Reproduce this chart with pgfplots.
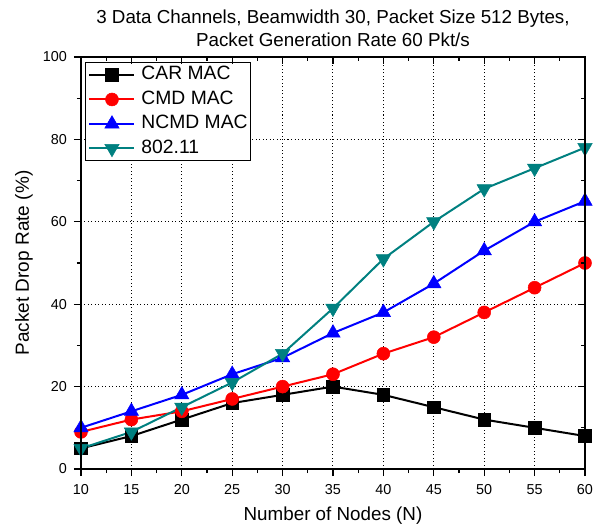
\documentclass[border=0pt]{standalone}
\usepackage{pgfplots}
\pgfplotsset{compat=1.18}
\usepackage{fontspec}
\setmainfont{Liberation Sans}
\definecolor{tealc}{RGB}{0,128,128}
\begin{document}
\begin{tikzpicture}
\pgfplotsset{
  base/.style={
    scale only axis,
    width=504pt, height=412pt,
    xmin=10, xmax=60, ymin=0, ymax=100,
    xtick={10,15,...,60}, ytick={0,20,...,100},
    minor x tick num=1, minor y tick num=1,
    major tick length=7pt, minor tick length=4pt,
    tick style={black, line width=1.2pt},
    axis line style={line width=1.5pt},
  }
}
\begin{axis}[
  base,
  tick align=outside, tick pos=left,
  grid=major,
  grid style={black, line width=1pt, dash pattern=on 1pt off 2.5pt},
  ticklabel style={font=\fontsize{14.4}{17}\selectfont, inner sep=0pt},
  xticklabel style={yshift=-8pt},
  yticklabel style={xshift=-7pt},
  /pgf/number format/assume math mode=true,
  xlabel={Number of Nodes (N)},
  ylabel={Packet Drop Rate (\%)},
  every axis x label/.style={at={(axis description cs:0.5,0)}, anchor=base, yshift=-51pt, font=\fontsize{18.8}{22}\selectfont},
  every axis y label/.style={at={(axis description cs:-0.113,0.5)}, rotate=90, anchor=center, font=\fontsize{19}{22}\selectfont},
  title={3 Data Channels, Beamwidth 30, Packet Size 512 Bytes,\\Packet Generation Rate 60 Pkt/s},
  every axis title/.style={at={(axis description cs:0.5,1)}, anchor=north, yshift=47pt, inner sep=0pt, align=center, font=\fontsize{18.8}{23}\selectfont},
  legend style={at={(rel axis cs:0.0079,0.9879)}, anchor=north west, draw=black, line width=1pt,
    font=\fontsize{19.3}{23}\selectfont, inner xsep=3pt, inner ysep=3.5pt,
    nodes={inner sep=0pt, text height=14pt, text depth=4pt},
    row sep=6.5pt, column sep=6pt, fill=white},
  legend cell align=left,
  every axis plot/.append style={line width=2pt},
  legend image code/.code={\draw[mark repeat=2,mark phase=2] plot coordinates {(0pt,0pt) (22.5pt,0pt) (45pt,0pt)};},
]
\addplot[black, mark=square*, mark size=6.3pt, mark options={solid,line width=0.5pt}] coordinates {
(10,5)(15,8)(20,12)(25,16)(30,18)(35,20)(40,18)(45,15)(50,12)(55,10)(60,8)};
\addlegendentry{CAR MAC}
\addplot[red, mark=*, mark size=6.5pt, mark options={solid,line width=0.5pt}] coordinates {
(10,9)(15,12)(20,14)(25,17)(30,20)(35,23)(40,28)(45,32)(50,38)(55,44)(60,50)};
\addlegendentry{CMD MAC}
\addplot[blue, mark=triangle*, mark size=8.3pt, mark options={solid,line width=0.5pt}] coordinates {
(10,10)(15,14)(20,18)(25,23)(30,27)(35,33)(40,38)(45,45)(50,53)(55,60)(60,65)};
\addlegendentry{NCMD MAC}
\addplot[tealc, mark=triangle*, mark size=8.3pt, mark options={solid,rotate=180,line width=0.5pt}] coordinates {
(10,5)(15,9)(20,15)(25,21)(30,28)(35,39)(40,51)(45,60)(50,68)(55,73)(60,78)};
\addlegendentry{802.11}
\end{axis}
\begin{axis}[
  base,
  tick align=inside, tick pos=right,
  xticklabels={}, yticklabels={},
]
\end{axis}
\path (-81pt,-58pt) rectangle (522pt,469pt);
\end{tikzpicture}
\end{document}
